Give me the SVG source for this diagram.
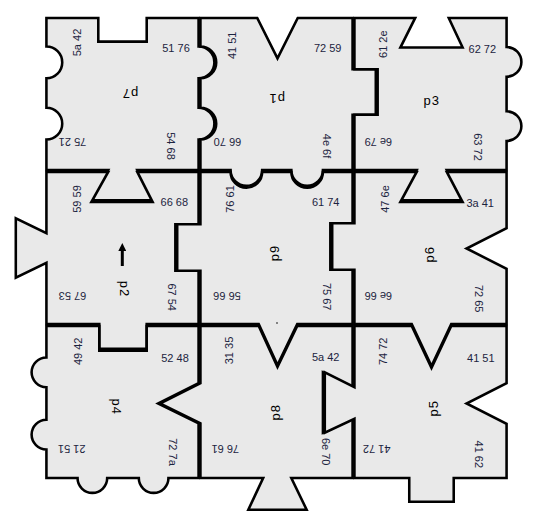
<svg xmlns="http://www.w3.org/2000/svg" width="541" height="528" viewBox="0 0 541 528">
<style>
.pc{fill:#e9e9e9;stroke:#000;stroke-width:2.6;stroke-linejoin:miter}
.n{font-family:"Liberation Sans",Arial,sans-serif;font-size:11px;fill:#1c2440;text-anchor:middle;dominant-baseline:central}
.c{font-family:"Liberation Sans",Arial,sans-serif;font-size:13px;fill:#000;text-anchor:middle;dominant-baseline:central;letter-spacing:1px}
</style>
<defs>
<marker id="ah" markerWidth="8" markerHeight="8" refX="4" refY="4" orient="auto" markerUnits="userSpaceOnUse" viewBox="0 0 8 8"><path d="M0,0 L8,4 L0,8 Z" fill="#000"/></marker>
</defs>
<rect width="541" height="528" fill="#fff"/>
<g id="p7">
<path class="pc" transform="translate(122.5,94) scale(0.988) translate(-122.5,-94)" d="M45.5,17 H98 V41 H147 V17 H199.5 V46 A16,16 0 0 1 199.5,78 V108 A16,16 0 0 1 199.5,140 V171 H137.5 L153,201.5 H91 L108,171 H45.5 V140 A16,16 0 0 0 45.5,108 V78 A16,16 0 0 0 45.5,46 Z"/>
<text class="n" transform="translate(176,48)">51 76</text>
<text class="n" transform="translate(171,146) rotate(90)">54 68</text>
<text class="n" transform="translate(72.5,142) rotate(180)">75 21</text>
<text class="n" transform="translate(77,42.5) rotate(-90)">5a 42</text>
<text class="c" transform="translate(130,93) rotate(180)">p7</text>
</g>
<g id="p1">
<path class="pc" transform="translate(276.5,94) scale(0.988) translate(-276.5,-94)" d="M199.5,17 H257 L277.5,58 L298,17 H353.5 V69 H377 V115 H353.5 V171 H323.5 A16,16 0 0 1 291.5,171 H262 A16,16 0 0 1 230,171 H199.5 V140 A16,16 0 0 0 199.5,108 V78 A16,16 0 0 0 199.5,46 Z"/>
<text class="n" transform="translate(327.7,48.3)">72 59</text>
<text class="n" transform="translate(326.7,146) rotate(90)">4e 6f</text>
<text class="n" transform="translate(227.5,141.7) rotate(180)">66 70</text>
<text class="n" transform="translate(231.7,45.3) rotate(-90)">41 51</text>
<text class="c" transform="translate(276.7,98) rotate(180)">p1</text>
</g>
<g id="p3">
<path class="pc" transform="translate(430.5,94) scale(0.988) translate(-430.5,-94)" d="M353.5,17 H415 L400,47 H463 L449,17 H507.5 V46.5 A15,15 0 0 1 507.5,76.5 V111.5 A15,15 0 0 1 507.5,141.5 V171 H447 L463,201.5 H400 L416.5,171 H353.5 V115 H377 V69 H353.5 Z"/>
<text class="n" transform="translate(482.3,49)">62 72</text>
<text class="n" transform="translate(478.3,147) rotate(90)">63 72</text>
<text class="n" transform="translate(378.3,141.7) rotate(180)">6e 79</text>
<text class="n" transform="translate(383.3,44.2) rotate(-90)">61 2e</text>
<text class="c" transform="translate(431.7,100)">p3</text>
</g>
<g id="p2">
<path class="pc" transform="translate(122.5,248) scale(0.988) translate(-122.5,-248)" d="M45.5,171 H108 L91,201.5 H153 L137.5,171 H199.5 V224 H176 V271 H199.5 V325 H147 V350 H99 V325 H45.5 V263 L14.5,278 V218 L45.5,233 Z"/>
<text class="n" transform="translate(76.7,199) rotate(-90)">59 59</text>
<text class="n" transform="translate(174.3,202.3)">66 68</text>
<text class="n" transform="translate(171.7,297.2) rotate(90)">67 54</text>
<text class="n" transform="translate(72.5,296) rotate(180)">67 53</text>
<text class="c" transform="translate(124,289) rotate(90)">p2</text>
<line x1="122.3" y1="266" x2="122.3" y2="247" stroke="#000" stroke-width="3" marker-end="url(#ah)"/>
</g>
<g id="p9">
<path class="pc" transform="translate(276.5,248) scale(0.988) translate(-276.5,-248)" d="M199.5,171 H230 A16,16 0 0 0 262,171 H291.5 A16,16 0 0 0 323.5,171 H353.5 V223 H331 V270 H353.5 V325 H297.5 L277.5,366.5 L258.5,325 H199.5 V271 H176 V224 H199.5 Z"/>
<text class="n" transform="translate(230,199) rotate(-90)">76 61</text>
<text class="n" transform="translate(325.7,202.3)">61 74</text>
<text class="n" transform="translate(326.7,296.7) rotate(90)">75 67</text>
<text class="n" transform="translate(227,296) rotate(180)">56 66</text>
<text class="c" transform="translate(274,253) rotate(-90)">p9</text>
<circle cx="277" cy="323" r="0.8" fill="#000"/>
</g>
<g id="p6">
<path class="pc" transform="translate(430.5,248) scale(0.988) translate(-430.5,-248)" d="M353.5,171 H416.5 L400,201.5 H463 L447,171 H507.5 V228 L467,248.5 L507.5,269 V325 H451.5 L431.5,367.5 L411.5,325 H353.5 V270 H331 V223 H353.5 Z"/>
<text class="n" transform="translate(385,199) rotate(-90)">47 6e</text>
<text class="n" transform="translate(480.2,202.7)">3a 41</text>
<text class="n" transform="translate(479.3,298.7) rotate(90)">72 65</text>
<text class="n" transform="translate(378.3,296) rotate(180)">6e 66</text>
<text class="c" transform="translate(429.3,254.3) rotate(-90)">p6</text>
</g>
<g id="p4">
<path class="pc" transform="translate(122.5,402) scale(0.988) translate(-122.5,-402)" d="M45.5,325 H99 V350 H147 V325 H199.5 V383 L158.5,403.5 L199.5,423.5 V479 H169 A15,15 0 0 1 139,479 H107 A15,15 0 0 1 77,479 H45.5 V450 A15,15 0 0 1 45.5,420 V387 A15,15 0 0 1 45.5,357 Z"/>
<text class="n" transform="translate(77.7,351.3) rotate(-90)">49 42</text>
<text class="n" transform="translate(175,357.7)">52 48</text>
<text class="n" transform="translate(173.3,452) rotate(90)">72 7a</text>
<text class="n" transform="translate(71.7,449.3) rotate(180)">21 51</text>
<text class="c" transform="translate(116,406.7) rotate(90)">p4</text>
</g>
<g id="p8">
<path class="pc" transform="translate(276.5,402) scale(0.988) translate(-276.5,-402)" d="M199.5,325 H258.5 L277.5,366.5 L297.5,325 H353.5 V387 L323.5,372 V433 L353.5,419 V479 H291.5 L307,511 H248 L263,479 H199.5 V423.5 L158.5,403.5 L199.5,383 Z"/>
<text class="n" transform="translate(229.3,350.5) rotate(-90)">31 35</text>
<text class="n" transform="translate(325.7,357.3)">5a 42</text>
<text class="n" transform="translate(326,451.7) rotate(90)">6e 70</text>
<text class="n" transform="translate(225.3,449) rotate(180)">76 61</text>
<text class="c" transform="translate(275,412.3) rotate(-90)">p8</text>
</g>
<g id="p5">
<path class="pc" transform="translate(430.5,402) scale(0.988) translate(-430.5,-402)" d="M353.5,325 H411.5 L431.5,367.5 L451.5,325 H507.5 V383 L467,403.5 L507.5,424 V479 H454 V503 H409 V479 H353.5 V419 L323.5,433 V372 L353.5,387 Z"/>
<text class="n" transform="translate(383.3,351.3) rotate(-90)">74 72</text>
<text class="n" transform="translate(480.8,357.7)">41 51</text>
<text class="n" transform="translate(479.3,454.3) rotate(90)">41 62</text>
<text class="n" transform="translate(376.7,449.3) rotate(180)">41 72</text>
<text class="c" transform="translate(433.3,408.3) rotate(-90)">p5</text>
</g>
<g id="connectors"></g>
</svg>
